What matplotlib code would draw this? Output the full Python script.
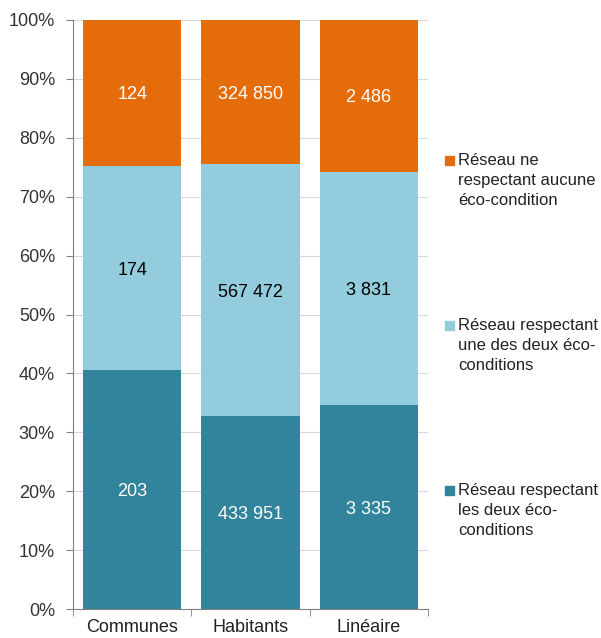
import matplotlib
matplotlib.use("Agg")
import matplotlib.pyplot as plt
from matplotlib.patches import Rectangle
import numpy as np

plt.rcParams['font.family'] = ['Liberation Sans', 'DejaVu Sans']

categories = ["Communes", "Habitants", "Linéaire"]
series_names = ["Réseau respectant\nles deux éco-\nconditions",
                "Réseau respectant\nune des deux éco-\nconditions",
                "Réseau ne\nrespectant aucune\néco-condition"]
deux = [203, 433951, 3335]
une = [174, 567472, 3831]
aucune = [124, 324850, 2486]
colors = ["#31849B", "#93CDDD", "#E46C0A"]
text_colors = ["white", "black", "white"]
yticks = [0, 10, 20, 30, 40, 50, 60, 70, 80, 90, 100]

def fmt(v):
    return f"{v:,}".replace(",", " ")

data = np.array([deux, une, aucune], dtype=float)
totals = data.sum(axis=0)
pct = data / totals * 100

fig = plt.figure(figsize=(6.01, 6.38), dpi=100)
ax = fig.add_axes([73/601, 1 - 609/638, (428 - 73)/601, (609 - 20)/638])

x = np.arange(len(categories))
bottom = np.zeros(len(categories))
for i in range(3):
    ax.bar(x, pct[i], bottom=bottom, width=0.83, color=colors[i], zorder=2)
    for j in range(len(categories)):
        ax.text(x[j], bottom[j] + pct[i][j] / 2, fmt(int(data[i][j])),
                ha="center", va="center_baseline", color=text_colors[i], fontsize=13, zorder=3)
    bottom += pct[i]

ax.set_xlim(-0.5, 2.5)
ax.set_ylim(0, 100)
ax.set_yticks(yticks)
ax.set_yticklabels([f"{t}%" for t in yticks], fontsize=13, color="#333333")
ax.yaxis.grid(True, color="#D9D9D9", linewidth=0.8, zorder=0)
ax.set_axisbelow(True)
ax.set_xticks(x)
ax.set_xticklabels(categories, fontsize=13, color="#222222")
ax.set_xticks([-0.5, 0.5, 1.5, 2.5], minor=True)
ax.tick_params(axis="x", which="major", length=0, pad=7)
ax.tick_params(axis="x", which="minor", length=5, color="#808080")
ax.tick_params(axis="y", length=5, color="#808080", direction="out", pad=8)
for s in ["top", "right"]:
    ax.spines[s].set_visible(False)
ax.spines["left"].set_color("#808080")
ax.spines["bottom"].set_color("#808080")

# legend (manual, right side)
legend_y = [490, 325, 160]
for i in range(3):
    yf = 1 - legend_y[i] / 638
    fig.patches.append(Rectangle((445/601, yf - 4.5/638), 9/601, 9/638,
                                 transform=fig.transFigure, color=colors[i]))
    fig.text(458/601, yf + 7/638, series_names[i], ha="left", va="top",
             fontsize=12, color="#222222", linespacing=1.42)

fig.savefig("out.png", dpi=100)
